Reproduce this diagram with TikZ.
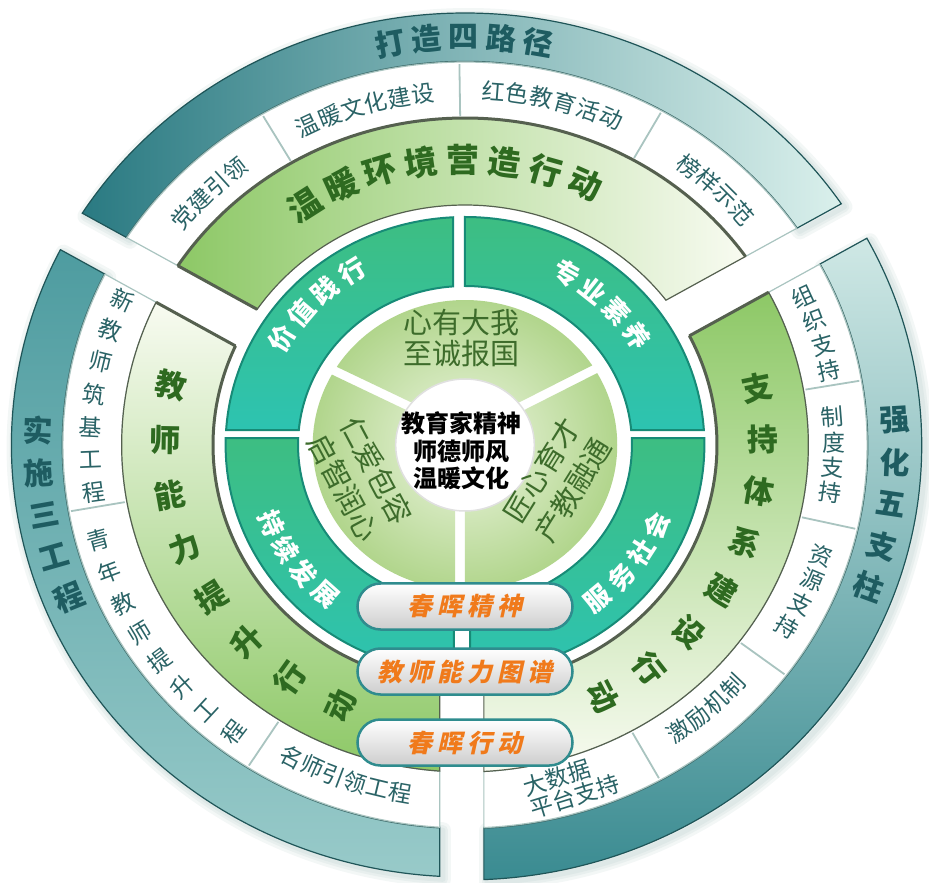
\documentclass[tikz,border=0pt]{standalone}
\usepackage{fontspec}
\setmainfont{Noto Sans CJK SC}
\newfontfamily\pillfont[FakeSlant=0.22]{Noto Sans CJK SC}
\usetikzlibrary{shapes.misc}

\definecolor{tealDark}{HTML}{2A7A82}
\definecolor{tealMidT}{HTML}{6FB0B2}
\definecolor{tealPale}{HTML}{DAF0EC}
\definecolor{tealLa}{HTML}{4E9CA0}
\definecolor{tealLb}{HTML}{98CAC9}
\definecolor{tealRa}{HTML}{CFE8E5}
\definecolor{tealRb}{HTML}{3A8B91}
\definecolor{tealOut}{HTML}{1F5558}
\definecolor{tealInner}{HTML}{3D6B6B}
\definecolor{tealText}{HTML}{1E5C61}
\definecolor{ringText}{HTML}{2A6366}
\definecolor{divLine}{HTML}{A9C4C0}
\definecolor{grnA}{HTML}{8DC866}
\definecolor{grnM}{HTML}{CBE6AE}
\definecolor{grnL}{HTML}{F8FBF1}
\definecolor{grnEdge}{HTML}{55604F}
\definecolor{grnText}{HTML}{2E6A20}
\definecolor{ringG}{HTML}{3DBE82}
\definecolor{ringT}{HTML}{2DC3B1}
\definecolor{ringEdge}{HTML}{178B77}
\definecolor{lgLight}{HTML}{EEF6E2}
\definecolor{lgDark}{HTML}{AFD489}
\definecolor{lgText}{HTML}{3D6C2B}
\definecolor{pillBorder}{HTML}{2F8C8E}
\definecolor{pillGrey}{HTML}{CDCDCD}
\definecolor{pillText}{HTML}{F07A1B}
\definecolor{shadowC}{HTML}{5E8E8C}

% annular sector bounded by two straight gap lines
\newcommand\mksec[7]{%
  \pgfmathsetmacro\aOs{#4+asin((#5)/(#3))}%
  \pgfmathsetmacro\aOe{#6+asin((#7)/(#3))}%
  \pgfmathsetmacro\aIs{#4+asin((#5)/(#2))}%
  \pgfmathsetmacro\aIe{#6+asin((#7)/(#2))}%
  \expandafter\xdef\csname zs#1\endcsname{(\aOs:#3) arc[start angle=\aOs,end angle=\aOe,radius=#3] -- (\aIe:#2) arc[start angle=\aIe,end angle=\aIs,radius=#2] -- cycle}%
  \expandafter\xdef\csname zs#1in\endcsname{(\aIs:#2) arc[start angle=\aIs,end angle=\aIe,radius=#2]}%
  \expandafter\xdef\csname zs#1out\endcsname{(\aOs:#3) arc[start angle=\aOs,end angle=\aOe,radius=#3]}%
  \expandafter\xdef\csname zs#1st\endcsname{(\aIs:#2) -- (\aOs:#3)}%
  \expandafter\xdef\csname zs#1en\endcsname{(\aIe:#2) -- (\aOe:#3)}%
}
% characters placed one by one along an arc
\newcommand\arcchars[7]{%
  \foreach \ch [count=\i from 0] in {#7} {%
    \pgfmathsetmacro\ang{#4+\i*(#5)}%
    \pgfmathsetmacro\rot{\ang+(#6)}%
    \node[#2, rotate=\rot] (#1\i) at (\ang:#3) {\ch};
  }%
}

\tikzset{
  bandtxt/.style={font=\fontsize{30}{30}\selectfont\bfseries, text=tealText, inner sep=0pt},
  ringtxt/.style={font=\fontsize{23}{23}\selectfont, text=ringText, inner sep=0pt},
  grntxt/.style={font=\fontsize{33}{33}\selectfont\bfseries, text=grnText, inner sep=0pt},
  grntxts/.style={font=\fontsize{31}{31}\selectfont\bfseries, text=grnText, inner sep=0pt},
  inntxt/.style={font=\fontsize{26}{26}\selectfont\bfseries, text=white, inner sep=0pt},
  lgtxt/.style={font=\fontsize{29}{31}\selectfont, text=lgText, align=center, inner sep=0pt},
  lgtxtb/.style={font=\fontsize{29}{37}\selectfont, text=lgText, align=center, inner sep=0pt},
  ctrtxt/.style={font=\fontsize{24}{27.5}\selectfont\bfseries, text=black, align=center, inner sep=0pt},
  divider/.style={draw=divLine, line width=1.8pt},
  edgeline/.style={draw=grnEdge, line width=3pt},
  glow/.style={draw=shadowC, line join=round, opacity=0.07},
  pill/.style={draw=pillBorder, line width=2.5pt, rounded corners=23pt,
    top color=white, bottom color=pillGrey, minimum width=215pt, minimum height=46pt,
    inner sep=0pt, font=\pillfont\fontsize{25}{25}\selectfont\bfseries, text=pillText},
}

\begin{document}
\begin{tikzpicture}[x=1pt,y=1pt]
\useasboundingbox (-465,-438) rectangle (464,445);
\fill[white] (-465,-438) rectangle (464,445);
\begin{scope}[xscale=1.05]
  % ---- outer sectors ----
  \mksec{TT}{383}{432}{30}{29.7}{150}{-18.5}
  \mksec{TW}{327}{383}{30}{29.7}{150}{-18.5}
  \mksec{TG}{240}{327}{30}{29.7}{150}{-18.5}
  \mksec{LT}{383}{432}{150}{23.5}{270}{-24}
  \mksec{LW}{327}{383}{150}{23.5}{270}{-24}
  \mksec{LG}{240}{327}{150}{23.5}{270}{-24}
  \mksec{RT}{383}{435}{-90}{18}{30}{-12.3}
  \mksec{RW}{327}{383}{-90}{18}{30}{-12.3}
  \mksec{RG}{240}{327}{-90}{18}{30}{-12.3}
  % inner ring quadrants
  \mksec{QA}{159}{228}{0}{15}{90}{0}
  \mksec{QB}{159}{228}{90}{11.4}{180}{-15}
  \mksec{QC}{159}{228}{180}{-7}{270}{-10.5}
  \mksec{QD}{159}{228}{270}{4.8}{360}{7}
  % light green sectors
  \mksec{SA}{30}{145}{28}{13.4}{153.4}{-15.2}
  \mksec{SB}{30}{145}{153.4}{-6.2}{270}{-9.5}
  \mksec{SC}{30}{145}{270}{0}{388}{4.4}

  % soft shadows of the outer sectors
  \foreach \w in {16,10,5} {
    \path[glow, line width=\w pt, shift={(3,-3)}] \zsTT;
    \path[glow, line width=\w pt, shift={(3,-3)}] \zsLT;
    \path[glow, line width=\w pt, shift={(3,-3)}] \zsRT;
  }

  % teal bands
  \path[left color=tealDark, middle color=tealMidT, right color=tealPale, draw=tealOut, line width=1.2pt] \zsTT;
  \draw[tealInner, line width=2.5pt] \zsTTin;
  \path[top color=tealLa, bottom color=tealLb, draw=tealOut, line width=1.2pt] \zsLT;
  \draw[tealInner, line width=2.5pt] \zsLTin;
  \path[top color=tealRa, bottom color=tealRb, draw=tealOut, line width=1.2pt] \zsRT;
  \draw[tealInner, line width=2.5pt] \zsRTin;

  % white rings
  \path[fill=white, draw=divLine, line width=1.2pt] \zsTW;
  \path[fill=white, draw=divLine, line width=1.2pt] \zsLW;
  \path[fill=white, draw=divLine, line width=1.2pt] \zsRW;
  \foreach \a in {120.3,90.8,60.7,190,237.3,9.7,-12.7,-37,-61}
    \draw[divider] (\a:329) -- (\a:381);

  % green bands
  \path[left color=grnA, middle color=grnM, right color=grnL, draw=grnEdge, line width=1.2pt] \zsTG;
  \draw[edgeline] \zsTGout;
  \draw[edgeline] \zsTGen;
  \path[top color=grnL, bottom color=grnA, draw=grnEdge, line width=1.2pt] \zsLG;
  \draw[edgeline] \zsLGin;
  \draw[edgeline] \zsLGst;
  \path[top color=grnA, bottom color=grnL, draw=grnEdge, line width=1.2pt] \zsRG;
  \draw[edgeline] \zsRGin;
  \draw[edgeline] \zsRGen;

  % inner teal ring
  \path[top color=ringG, bottom color=ringT, draw=ringEdge, line width=2pt] \zsQA;
  \path[top color=ringG, bottom color=ringT, draw=ringEdge, line width=2pt] \zsQB;
  \path[top color=ringG, bottom color=ringT, draw=ringEdge, line width=2pt] \zsQC;
  \path[top color=ringG, bottom color=ringT, draw=ringEdge, line width=2pt] \zsQD;

  % light green sectors
  \begin{scope}
    \clip \zsSA \zsSB \zsSC;
    \shade[inner color=lgLight, outer color=lgDark] (0,0) circle (150);
  \end{scope}
  \fill[white] (0,0) circle (66);
  \draw[black!12, line width=1.5pt] (0,0) circle (66);

  % ---- texts ----
  \arcchars{ta}{bandtxt}{408}{100.1}{-4.975}{-90}{打,造,四,路,径}
  \arcchars{tb}{bandtxt}{407}{178}{6}{-180}{实,施,三,工,程}
  \arcchars{tc}{bandtxt}{410}{3.5}{-5.925}{0}{强,化,五,支,柱}

  \arcchars{wa}{ringtxt}{352}{139.6}{-3.74}{-90}{党,建,引,领}
  \arcchars{wb}{ringtxt}{353}{115.15}{-3.74}{-90}{温,暖,文,化,建,设}
  \arcchars{wc}{ringtxt}{355}{85.65}{-3.74}{-90}{红,色,教,育,活,动}
  \arcchars{wd}{ringtxt}{351}{52.6}{-3.74}{-90}{榜,样,示,范}
  \arcchars{we}{ringtxt}{357}{156}{5.27}{-180}{新,教,师,筑,基,工,程}
  \arcchars{wf}{ringtxt}{362}{195.3}{5.31}{-180}{青,年,教,师,提,升,工,程}
  \arcchars{wg}{ringtxt}{353}{242.1}{3.57}{90}{名,师,引,领,工,程}
  \arcchars{wh}{ringtxt}{355}{24.7}{-4.17}{0}{组,织,支,持}
  \arcchars{wi}{ringtxt}{351}{4.6}{-4.13}{0}{制,度,支,持}
  \arcchars{wj}{ringtxt}{357}{-18}{-4.23}{0}{资,源,支,持}
  \arcchars{wk}{ringtxt}{351}{-54.6}{3.75}{90}{激,励,机,制}
  \node[ringtxt, rotate=17, align=left] (wl) at (-73.4:355) {大数据\\平台支持};

  \arcchars{ga}{grntxt}{285}{122.5}{-8.03}{-90}{温,暖,环,境,营,造,行,动}
  \arcchars{gb}{grntxts}{286}{168}{11.07}{-180}{教,师,能,力,提,升,行,动}
  \arcchars{gc}{grntxts}{284}{11.7}{-10.6}{0}{支,持,体,系,建,设,行,动}

  \arcchars{ia}{inntxt}{204}{148.5}{-8.9}{-90}{价,值,践,行}
  \arcchars{ib}{inntxt}{197}{60.5}{-8.9}{-90}{专,业,素,养}
  \arcchars{ic}{inntxt}{200}{203}{8.4}{90}{持,续,发,展}
  \arcchars{id}{inntxt}{199}{-50.5}{8.9}{90}{服,务,社,会}

  \node[lgtxt] (la) at (-2.9,107) {心有大我\\至诚报国};
  \node[lgtxtb, rotate=-62] (lb) at (-100,-34) {仁爱包容\\启智润心};
  \node[lgtxtb, rotate=58] (lc) at (88,-35) {匠心育才\\产教融通};

  \node[ctrtxt] (ctr) at (-3.8,-6) {教育家精神\\师德师风\\温暖文化};

  % ---- pills ----
  \node[pill] (p1) at (0,-161.5) {春\hspace{5pt}晖\hspace{5pt}精\hspace{5pt}神};
  \node[pill] (p2) at (0,-226.5) {教\hspace{5pt}师\hspace{5pt}能\hspace{5pt}力\hspace{5pt}图\hspace{5pt}谱};
  \node[pill] (p3) at (0,-297.5) {春\hspace{5pt}晖\hspace{5pt}行\hspace{5pt}动};
\end{scope}
\end{tikzpicture}
\end{document}
